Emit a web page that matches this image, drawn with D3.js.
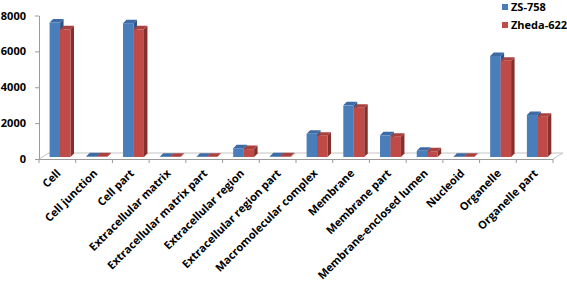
<!DOCTYPE html>
<html>
<head>
<meta charset="utf-8">
<script src="https://cdn.jsdelivr.net/npm/d3@7"></script>
<style>
  html, body { margin: 0; padding: 0; background: #fff; }
  svg { display: block; }
  .lbl { font: 700 11px "Open Sans", sans-serif; fill: #000; }
</style>
</head>
<body>
<div id="chart"></div>
<script>
(function() {
    'use strict';

    var categories = [
        'Cell', 'Cell junction', 'Cell part', 'Extracellular matrix',
        'Extracellular matrix part', 'Extracellular region', 'Extracellular region part',
        'Macromolecular complex', 'Membrane', 'Membrane part', 'Membrane-enclosed lumen',
        'Nucleoid', 'Organelle', 'Organelle part'
    ];
    var seriesNames = ['ZS-758', 'Zheda-622'];
    var zs758 = [7500, 40, 7460, 15, 10, 490, 45, 1290, 2880, 1210, 345, 12, 5630, 2340];
    var zheda622 = [7120, 35, 7120, 12, 8, 440, 40, 1190, 2750, 1130, 320, 10, 5370, 2250];
    var yTicks = [0, 2000, 4000, 6000, 8000];

    // front, top, side
    var faces = {
        'ZS-758': ['#4a7ebb', '#3e6aa6', '#2f5487'],
        'Zheda-622': ['#be4b48', '#a9413e', '#86302d']
    };

    var width = 567, height = 283;
    var left = 39, right = 553, floorY = 159;
    var depthX = 10, depthY = 6;     // floor depth
    var barDx = 3.5, barDy = 3.5;    // bar depth
    var lift = 2;                    // bars stand a bit behind the front edge

    var svg = d3.select('#chart').append('svg')
        .attr('width', width)
        .attr('height', height);

    var x = d3.scaleBand().domain(categories).range([left, right]);
    var y = d3.scaleLinear().domain([0, 8000]).range([floorY, 15.5]);

    var groupW = x.bandwidth() * 0.57;
    var inner = d3.scaleBand().domain(seriesNames).range([0, groupW]);

    // floor
    var floor = svg.append('g').attr('stroke', '#c4c4c4').attr('fill', 'none');
    floor.append('path')
        .attr('d', 'M' + left + ',' + floorY + 'L' + (left + depthX) + ',' + (floorY - depthY) +
            'L' + (right + depthX) + ',' + (floorY - depthY) + 'L' + right + ',' + floorY);

    // y axis
    var yAxis = svg.append('g')
        .attr('transform', 'translate(' + left + ',0)')
        .call(d3.axisLeft(y).tickValues(yTicks).tickSize(4).tickSizeOuter(0).tickPadding(9)
            .tickFormat(d3.format('d')));
    yAxis.select('.domain').attr('stroke', '#9a9a9a');
    yAxis.selectAll('.tick line').attr('stroke', '#9a9a9a');
    yAxis.selectAll('.tick text').attr('class', 'lbl');

    // x axis: front edge and boundary ticks
    var edges = d3.range(categories.length + 1).map(function(i) {
        return left + i * x.step();
    });
    svg.append('line')
        .attr('x1', left).attr('x2', right)
        .attr('y1', floorY + 0.5).attr('y2', floorY + 0.5)
        .attr('stroke', '#9a9a9a');
    svg.append('g').selectAll('line')
        .data(edges)
        .join('line')
        .attr('x1', function(d) { return d; })
        .attr('x2', function(d) { return d; })
        .attr('y1', floorY)
        .attr('y2', floorY + 4)
        .attr('stroke', '#9a9a9a');

    // bars
    var rows = [];
    categories.forEach(function(c, i) {
        rows.push({ cat: c, s: 'ZS-758', v: zs758[i] });
        rows.push({ cat: c, s: 'Zheda-622', v: zheda622[i] });
    });

    var bars = svg.append('g').selectAll('g')
        .data(rows)
        .join('g');

    bars.each(function(d) {
        var g = d3.select(this);
        var x0 = x(d.cat) + (x.bandwidth() - groupW) / 2 + 2.7 + inner(d.s);
        var w = inner.bandwidth();
        var yb = y(0) - lift;
        var yt = y(d.v) - lift;
        var col = faces[d.s];
        g.append('path')
            .attr('fill', col[2])
            .attr('d', 'M' + (x0 + w) + ',' + yt + 'L' + (x0 + w + barDx) + ',' + (yt - barDy) +
                'L' + (x0 + w + barDx) + ',' + (yb - barDy) + 'L' + (x0 + w) + ',' + yb + 'Z');
        g.append('path')
            .attr('fill', col[1])
            .attr('d', 'M' + x0 + ',' + yt + 'L' + (x0 + barDx) + ',' + (yt - barDy) +
                'L' + (x0 + w + barDx) + ',' + (yt - barDy) + 'L' + (x0 + w) + ',' + yt + 'Z');
        g.append('rect')
            .attr('x', x0).attr('y', yt)
            .attr('width', w).attr('height', Math.max(0, yb - yt))
            .attr('fill', col[0]);
    });

    // category labels
    svg.append('g').selectAll('text')
        .data(categories)
        .join('text')
        .attr('class', 'lbl')
        .attr('text-anchor', 'end')
        .attr('transform', function(d) {
            return 'translate(' + (x(d) + x.bandwidth() / 2 + 4) + ',' + 174 + ') rotate(-45)';
        })
        .text(function(d) { return d; });

    // legend
    var legend = svg.append('g').selectAll('g')
        .data(seriesNames)
        .join('g')
        .attr('transform', function(d, i) { return 'translate(502,' + (4 + i * 18) + ')'; });
    legend.append('rect')
        .attr('width', 6).attr('height', 6)
        .attr('fill', function(d) { return faces[d][0]; });
    legend.append('text')
        .attr('class', 'lbl')
        .attr('x', 9).attr('y', 7)
        .text(function(d) { return d; });
})();
</script>
</body>
</html>
